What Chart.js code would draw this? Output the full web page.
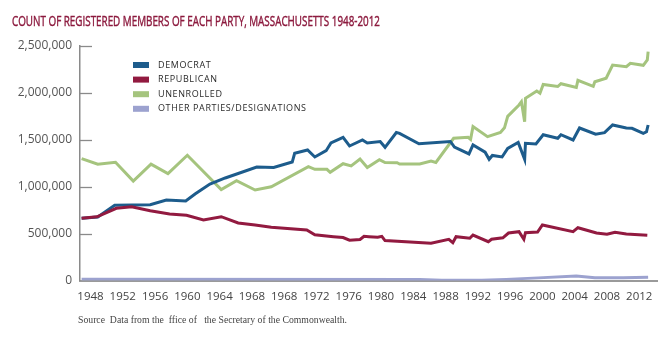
<!DOCTYPE html>
<html>
<head>
<meta charset="utf-8">
<script src="https://cdn.jsdelivr.net/npm/chart.js@4.4.1/dist/chart.umd.min.js"></script>
<style>
  html, body { margin: 0; padding: 0; background: #fff; }
  #wrap { width: 669px; height: 346px; }
</style>
</head>
<body>
<div id="wrap"><canvas id="partyChart" width="669" height="346"></canvas></div>
<script>
// labels printed under the axis, one every 4 years of axis space
var xTickLabels = ["1948", "1952", "1956", "1960", "1964", "1968", "1968", "1972", "1976",
  "1980", "1984", "1988", "1992", "1996", "2000", "2004", "2008", "2012"];
var yTickStep = 500000;
var yMax = 2500000;

var partyNames = ["DEMOCRAT", "REPUBLICAN", "UNENROLLED", "OTHER PARTIES/DESIGNATIONS"];
var partyColors = ["#1d5c8c", "#921a40", "#a5c47e", "#9ca2cf"];

// registered members, positions on the year axis
var demYears = [1946.9, 1948.9, 1951.0, 1955.4, 1957.4, 1959.8, 1961.0, 1962.8, 1964.7, 1968.6,
  1970.7, 1973.0, 1973.3, 1974.9, 1975.8, 1977.2, 1977.8, 1979.3, 1980.1, 1981.7,
  1982.3, 1983.9, 1984.5, 1985.9, 1986.3, 1988.7, 1992.6, 1993.1, 1994.9, 1995.4,
  1996.9, 1997.4, 1997.8, 1999.0, 1999.7, 2001.0, 2001.8, 2001.9, 2003.2, 2004.1,
  2005.9, 2006.3, 2007.8, 2008.6, 2010.6, 2011.7, 2012.7, 2014.4, 2015.1, 2016.5,
  2016.9, 2017.1];
var demCounts = [663000, 677000, 803000, 808000, 858000, 848000, 925000, 1029000, 1093000, 1210000,
  1205000, 1263000, 1356000, 1391000, 1317000, 1384000, 1466000, 1525000, 1434000, 1498000,
  1466000, 1482000, 1420000, 1578000, 1569000, 1458000, 1482000, 1423000, 1349000, 1445000,
  1368000, 1292000, 1333000, 1317000, 1409000, 1471000, 1292000, 1463000, 1455000, 1554000,
  1516000, 1554000, 1498000, 1626000, 1560000, 1576000, 1658000, 1626000, 1623000, 1569000,
  1586000, 1658000];

var repYears = [1946.9, 1948.8, 1951.2, 1953.1, 1955.4, 1957.8, 1959.9, 1962.0, 1964.2, 1966.3,
  1968.4, 1970.4, 1974.8, 1975.8, 1978.1, 1979.3, 1980.1, 1981.4, 1981.9, 1982.5,
  1983.6, 1984.1, 1984.5, 1990.2, 1992.4, 1992.9, 1993.3, 1995.0, 1995.4, 1997.3,
  1997.7, 1999.1, 1999.8, 2001.1, 2001.7, 2001.9, 2003.4, 2004.0, 2007.8, 2008.4,
  2010.7, 2012.0, 2013.0, 2014.4, 2017.0];
var repCounts = [663000, 679000, 770000, 787000, 744000, 709000, 695000, 645000, 680000, 613000,
  592000, 567000, 538000, 488000, 467000, 458000, 430000, 437000, 471000, 467000,
  461000, 471000, 426000, 397000, 439000, 403000, 467000, 450000, 485000, 414000,
  440000, 455000, 506000, 520000, 439000, 510000, 517000, 592000, 520000, 563000,
  506000, 493000, 514000, 496000, 483000];

var unenYears = [1946.9, 1948.9, 1951.1, 1953.3, 1955.5, 1957.6, 1960.0, 1964.2, 1966.1, 1968.4,
  1970.4, 1975.0, 1975.8, 1977.3, 1977.7, 1979.3, 1980.3, 1981.4, 1982.3, 1983.8,
  1984.5, 1986.0, 1986.3, 1988.8, 1990.2, 1990.8, 1993.0, 1994.8, 1995.1, 1995.4,
  1997.2, 1998.8, 1999.3, 1999.7, 2001.1, 2001.4, 2001.8, 2001.9, 2003.3, 2003.7,
  2004.1, 2005.9, 2006.3, 2008.2, 2008.4, 2010.3, 2010.5, 2011.9, 2012.7, 2014.4,
  2014.9, 2016.5, 2017.0, 2017.1];
var unenCounts = [1300000, 1240000, 1260000, 1060000, 1240000, 1140000, 1335000, 970000, 1065000, 965000,
  1000000, 1213000, 1185000, 1185000, 1153000, 1245000, 1221000, 1295000, 1205000, 1288000,
  1258000, 1255000, 1242000, 1242000, 1274000, 1258000, 1516000, 1527000, 1505000, 1642000,
  1533000, 1578000, 1628000, 1750000, 1871000, 1906000, 1693000, 1942000, 2020000, 1996000,
  2090000, 2068000, 2098000, 2058000, 2134000, 2070000, 2119000, 2156000, 2297000, 2279000,
  2316000, 2294000, 2351000, 2439000];

var otherYears = [1946.9, 1988.8, 1991.5, 1996.5, 1999.5, 2003.5, 2008.2, 2010.5, 2014.0, 2017.1];
var otherCounts = [12000, 10000, 2000, 2000, 12000, 28000, 48000, 30000, 28000, 35000];

function points(xs, ys) {
  return xs.map(function (x, i) { return { x: x, y: ys[i] }; });
}

function lineSet(i, xs, ys, order) {
  return {
    label: partyNames[i],
    data: points(xs, ys),
    borderColor: partyColors[i],
    backgroundColor: partyColors[i],
    borderWidth: 3,
    borderJoinStyle: "miter",
    pointRadius: 0,
    tension: 0,
    order: order
  };
}

var titleText = "COUNT OF REGISTERED MEMBERS OF EACH PARTY, MASSACHUSETTS 1948-2012";
var sourceText = "Source  Data from the  ffice of   the Secretary of the Commonwealth.";

// title, legend box, inner tick marks and source line
var decorPlugin = {
  id: "decor",
  afterDraw: function (chart) {
    var c = chart.ctx;
    var area = chart.chartArea;
    var yScale = chart.scales.y;

    c.save();
    c.strokeStyle = "#8a8a8a";
    c.lineWidth = 1.3;
    yScale.ticks.forEach(function (t) {
      if (t.value === 0) return;
      var py = Math.round(yScale.getPixelForValue(t.value)) + 0.5;
      c.beginPath();
      c.moveTo(area.left, py);
      c.lineTo(area.left + 12, py);
      c.stroke();
    });

    // legend
    c.font = '9px "Open Sans"';
    c.letterSpacing = "0.6px";
    c.textBaseline = "middle";
    chart.data.datasets.forEach(function (ds, i) {
      var ly = 65 + i * 14.6;
      c.fillStyle = ds.borderColor;
      c.fillRect(133, ly - 3, 16, 6);
      c.fillStyle = "#2a2a2a";
      c.fillText(ds.label, 158, ly);
    });
    c.letterSpacing = "0px";

    // title, squeezed to a condensed width, with a hairline stroke for weight
    c.font = '15px "Liberation Sans Narrow", "Open Sans"';
    c.fillStyle = "#8c1a3e";
    c.strokeStyle = "#8c1a3e";
    c.lineWidth = 0.45;
    c.textBaseline = "alphabetic";
    var w = c.measureText(titleText).width;
    c.save();
    c.translate(12, 26);
    c.scale(368 / w, 1);
    c.fillText(titleText, 0, 0);
    c.strokeText(titleText, 0, 0);
    c.restore();

    // source line
    c.font = '10px "Liberation Serif"';
    c.fillStyle = "#444";
    var sw = c.measureText(sourceText).width;
    c.save();
    c.translate(78, 323);
    c.scale(269 / sw, 1);
    c.fillText(sourceText, 0, 0);
    c.restore();

    c.restore();
  }
};

new Chart(document.getElementById("partyChart"), {
  type: "line",
  data: {
    datasets: [
      lineSet(0, demYears, demCounts, 1),
      lineSet(1, repYears, repCounts, 0),
      lineSet(2, unenYears, unenCounts, 2),
      lineSet(3, otherYears, otherCounts, 3)
    ]
  },
  options: {
    responsive: false,
    animation: false,
    devicePixelRatio: 1,
    layout: { padding: { left: 0, right: 12, top: 46, bottom: 35.5 } },
    plugins: {
      legend: { display: false },
      title: { display: false },
      tooltip: { enabled: false }
    },
    scales: {
      x: {
        type: "linear",
        min: 1946.7,
        max: 2018.2,
        grid: { display: false, drawTicks: false },
        border: { display: true, color: "#9a9a9a", width: 2 },
        afterBuildTicks: function (scale) {
          scale.ticks = xTickLabels.map(function (_, i) { return { value: 1948 + 4 * i }; });
        },
        afterFit: function (scale) { scale.height = 30; },
        ticks: {
          autoSkip: false,
          maxRotation: 0,
          padding: 9,
          color: "#444",
          font: { family: "'Open Sans'", size: 11.5 },
          callback: function (val, idx) { return xTickLabels[idx]; }
        }
      },
      y: {
        min: 0,
        max: yMax,
        grid: { display: false, drawTicks: false },
        border: { display: true, color: "#8a8a8a", width: 1.5 },
        afterFit: function (scale) { scale.width = 80; },
        ticks: {
          stepSize: yTickStep,
          padding: 8,
          color: "#555",
          font: { family: "'Open Sans'", size: 12 },
          callback: function (val) { return val.toLocaleString("en-US"); }
        }
      }
    }
  },
  plugins: [decorPlugin]
});
</script>
</body>
</html>
